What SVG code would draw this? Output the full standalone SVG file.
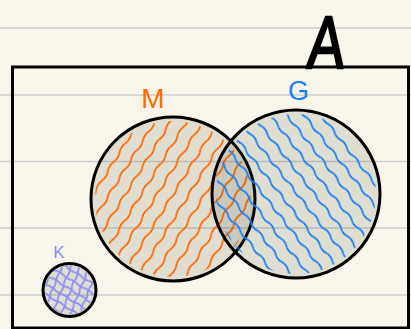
<svg xmlns="http://www.w3.org/2000/svg" width="411" height="329" viewBox="0 0 411 329">
<style>
.rule{stroke:#cdcdcd;stroke-width:1.6}
.set{fill:#3c3c2c;fill-opacity:0.13}
.edge{fill:none;stroke:#000;stroke-width:3}
.hl{fill:none;stroke-width:1.8;stroke-linecap:round}
.lbl{font-family:"Liberation Sans",Arial,sans-serif}
</style>
<defs>
<pattern id="hOr" patternUnits="userSpaceOnUse" width="13.5" height="22" patternTransform="rotate(32)">
<path class="hl" stroke="#ff6a00" d="M6.75,0 Q8.9,5.5 6.75,11 T6.75,22"/>
</pattern>
<pattern id="hBl" patternUnits="userSpaceOnUse" width="13.5" height="20" patternTransform="rotate(-38)">
<path class="hl" stroke="#1a7ff5" d="M6.75,0 Q8.9,5 6.75,10 T6.75,20"/>
</pattern>
<pattern id="hPu1" patternUnits="userSpaceOnUse" width="8.5" height="16" patternTransform="rotate(-58)">
<path class="hl" stroke="#8c8ff5" d="M4.25,0 Q5.5,4 4.25,8 T4.25,16"/>
</pattern>
<pattern id="hPu2" patternUnits="userSpaceOnUse" width="8.5" height="16" patternTransform="rotate(22)">
<path class="hl" stroke="#8c8ff5" d="M4.25,0 Q5.5,4 4.25,8 T4.25,16"/>
</pattern>
<clipPath id="cM"><circle cx="173" cy="199" r="78"/></clipPath>
<clipPath id="cG"><circle cx="296" cy="194" r="80"/></clipPath>
<clipPath id="cK"><circle cx="69.5" cy="290" r="24.5"/></clipPath>
</defs>
<rect width="411" height="329" fill="#f8f6ea"/>
<g id="rules">
<line class="rule" x1="0" y1="28" x2="411" y2="28"/>
<line class="rule" x1="0" y1="95" x2="411" y2="95"/>
<line class="rule" x1="0" y1="161.5" x2="411" y2="161.5"/>
<line class="rule" x1="0" y1="228" x2="411" y2="228"/>
<line class="rule" x1="0" y1="295" x2="411" y2="295"/>
</g>
<g id="universe">
<rect x="12.5" y="67" width="396" height="261" fill="none" stroke="#000" stroke-width="3"/>
<text class="lbl" font-size="74" stroke="#000" stroke-width="2.5" stroke-linejoin="round" transform="translate(306,68) scale(0.75,1) skewX(-6)">A</text>
</g>
<g id="setM">
<circle class="set" cx="173" cy="199" r="82"/>
<rect x="90" y="116" width="166" height="166" fill="url(#hOr)" clip-path="url(#cM)"/>
<circle class="edge" cx="173" cy="199" r="82"/>
<text class="lbl" x="153" y="108" font-size="28" fill="#ff6a00" text-anchor="middle">M</text>
</g>
<g id="setG">
<circle class="set" cx="296" cy="194" r="84"/>
<rect x="211" y="109" width="170" height="170" fill="url(#hBl)" clip-path="url(#cG)"/>
<circle class="edge" cx="296" cy="194" r="84"/>
<text class="lbl" x="298.5" y="100" font-size="27" fill="#1a7ff5" text-anchor="middle">G</text>
</g>
<g id="setK">
<circle class="set" cx="69.5" cy="290" r="26.5"/>
<g clip-path="url(#cK)">
<rect x="42" y="262" width="56" height="56" fill="url(#hPu1)"/>
<rect x="42" y="262" width="56" height="56" fill="url(#hPu2)"/>
</g>
<circle class="edge" cx="69.5" cy="290" r="26.5"/>
<text class="lbl" x="59" y="258" font-size="17" fill="#8c8ff5" text-anchor="middle">K</text>
</g>
<g id="connectors"/>
</svg>
